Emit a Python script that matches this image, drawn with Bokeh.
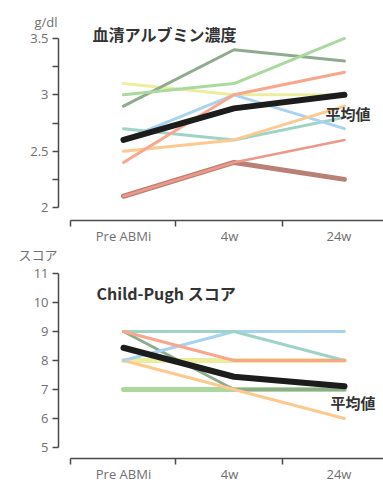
from bokeh.plotting import figure
from bokeh.layouts import column
from bokeh.models import FixedTicker, Label
from bokeh.embed import file_html
from bokeh.resources import INLINE

# ---- data ----
categories = ["Pre ABMi", "4w", "24w"]

alb_dkgreen = [2.9, 3.4, 3.3]
alb_ltgreen = [3.0, 3.1, 3.5]
alb_yellow = [3.1, 3.0, 3.0]
alb_salmon = [2.4, 3.0, 3.2]
alb_blue = [2.6, 3.0, 2.7]
alb_teal = [2.7, 2.6, 2.8]
alb_orange = [2.5, 2.6, 2.9]
alb_red = [2.1, 2.4, 2.6]
alb_brown = [2.1, 2.4, 2.25]
alb_mean = [2.6, 2.88, 3.0]

cp_teal = [9, 9, 8]
cp_blue = [8, 9, 9]
cp_salmon = [9, 8, 8]
cp_dkgreen = [9, 7, 7]
cp_yellow = [8, 8, 8]
cp_orange = [8, 7, 6]
cp_green = [7, 7, 7]
cp_mean = [8.44, 7.44, 7.11]

alb_ticks = [2, 2.5, 3, 3.5]
alb_minor = [2.25, 2.75, 3.25]
cp_ticks = [5, 6, 7, 8, 9, 10, 11]

# ---- style ----
C = dict(dkgreen="#8fab8d", ltgreen="#aad99e", yellow="#ebee9f", salmon="#f9a68d",
         blue="#a8d3f0", teal="#9fd3c8", orange="#fdc98f", red="#ee988a",
         brown="#b98075", green="#acd8a0", mean="#1c1c1c")
JP = "Noto Sans CJK JP"
NUM = "Open Sans"
AXIS_COL = "#4a4a4a"
LBL_COL = "#707070"

x_pos = list(range(len(categories)))
X_START, X_END = -1.113, 2.353
Y_AXIS_X = -0.588
BOUNDS = [-0.48, 0.47, 1.44]
LABEL_POS = [0, 0.96, 1.95]


def base_fig(height, y_range, x_axis_y, y_bounds, y_ticks, y_minor, x_standoff):
    p = figure(width=383, height=height, x_range=(X_START, X_END), y_range=y_range,
               output_backend="svg", toolbar_location=None, title=None,
               min_border_left=0, min_border_right=0, min_border_top=0,
               min_border_bottom=0)
    p.outline_line_color = None
    p.grid.visible = False
    p.background_fill_color = "white"
    p.border_fill_color = "white"
    xa = p.xaxis[0]
    xa.fixed_location = x_axis_y
    xa.ticker = FixedTicker(ticks=LABEL_POS, minor_ticks=BOUNDS)
    xa.major_label_overrides = {LABEL_POS[i]: categories[i] for i in range(len(categories))}
    xa.bounds = (BOUNDS[0], X_END)
    xa.major_tick_out = 0
    xa.major_tick_in = 0
    xa.minor_tick_out = 6
    xa.minor_tick_in = 0
    xa.minor_tick_line_color = AXIS_COL
    xa.minor_tick_line_width = 1.5
    xa.axis_line_color = AXIS_COL
    xa.axis_line_width = 1.5
    xa.major_label_text_font = NUM
    xa.major_label_text_font_size = "13px"
    xa.major_label_text_color = LBL_COL
    xa.major_label_standoff = x_standoff
    ya = p.yaxis[0]
    ya.fixed_location = Y_AXIS_X
    ya.ticker = FixedTicker(ticks=y_ticks, minor_ticks=y_minor)
    ya.bounds = y_bounds
    ya.axis_line_color = AXIS_COL
    ya.axis_line_width = 1.5
    ya.major_tick_out = 6
    ya.major_tick_in = 0
    ya.minor_tick_out = 6
    ya.minor_tick_in = 0
    ya.major_tick_line_color = AXIS_COL
    ya.minor_tick_line_color = AXIS_COL
    ya.major_tick_line_width = 1.5
    ya.minor_tick_line_width = 1.5
    ya.major_label_text_font = NUM
    ya.major_label_text_font_size = "13px"
    ya.major_label_text_color = LBL_COL
    ya.major_label_standoff = 4
    return p


def ln(p, ys, color, w=3):
    p.line(x_pos, ys, line_color=color, line_width=w, line_cap="round", line_join="round")


# ---- top chart: serum albumin ----
p1 = base_fig(244, (1.672, 3.837), 1.885, (alb_ticks[0], alb_ticks[-1]),
              alb_ticks, alb_minor, 1)
p1.yaxis[0].major_label_overrides = {2: "2", 2.5: "2.5", 3: "3", 3.5: "3.5"}

ln(p1, alb_yellow, C["yellow"])
ln(p1, alb_dkgreen, C["dkgreen"])
ln(p1, alb_ltgreen, C["ltgreen"])
ln(p1, alb_teal, C["teal"])
ln(p1, alb_blue, C["blue"])
ln(p1, alb_orange, C["orange"])
ln(p1, alb_salmon, C["salmon"])
ln(p1, alb_brown, C["brown"], 5)
ln(p1, alb_red, C["red"], 2.5)
ln(p1, alb_mean, C["mean"], 6)

p1.add_layout(Label(x=-0.597, y=3.642, text="g/dl", text_align="right", text_baseline="middle",
                    text_font=NUM, text_font_size="13px", text_color=LBL_COL))
p1.add_layout(Label(x=-0.28, y=3.544, text="血清アルブミン濃度", text_align="left",
                    text_baseline="middle", text_font=JP, text_font_size="16px",
                    text_font_style="bold", text_color="#333333"))
p1.add_layout(Label(x=1.828, y=2.834, text="平均値", text_align="left", text_baseline="middle",
                    text_font=JP, text_font_size="15px", text_font_style="bold",
                    text_color="#333333"))

# ---- bottom chart: Child-Pugh score ----
p2 = base_fig(239, (3.759, 12.0), 4.621, (cp_ticks[0], cp_ticks[-1]),
              cp_ticks, [], 0)

ln(p2, cp_green, C["green"], 5)
ln(p2, cp_yellow, C["yellow"], 5)
ln(p2, cp_dkgreen, C["dkgreen"])
ln(p2, cp_orange, C["orange"])
ln(p2, cp_blue, C["blue"])
ln(p2, cp_teal, C["teal"])
ln(p2, cp_salmon, C["salmon"])
ln(p2, cp_mean, C["mean"], 6)

p2.add_layout(Label(x=-0.597, y=11.64, text="スコア", text_align="right", text_baseline="middle",
                    text_font=JP, text_font_size="13px", text_color=LBL_COL))
p2.add_layout(Label(x=-0.244, y=10.34, text="Child-Pugh スコア", text_align="left",
                    text_baseline="middle", text_font=JP, text_font_size="16px",
                    text_font_style="bold", text_color="#333333"))
p2.add_layout(Label(x=1.873, y=6.55, text="平均値", text_align="left", text_baseline="middle",
                    text_font=JP, text_font_size="15px", text_font_style="bold",
                    text_color="#333333"))

layout = column(p1, p2, spacing=0)
open("out.html", "w").write(file_html(layout, INLINE))
